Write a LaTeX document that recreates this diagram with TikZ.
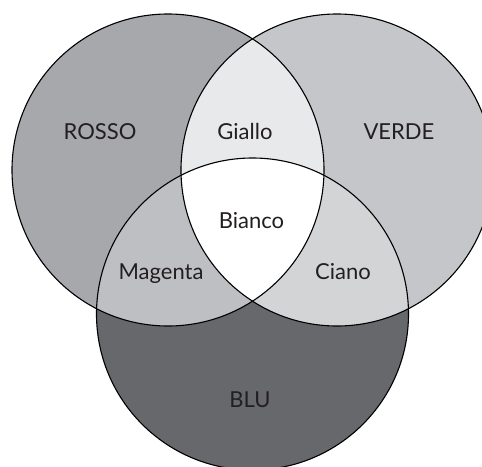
\documentclass[tikz,border=0pt]{standalone}
\usepackage{fontspec}
\setmainfont{Lato}
\definecolor{cred}{HTML}{A7A8AC}
\definecolor{cgreen}{HTML}{C4C6C9}
\definecolor{cblue}{HTML}{67686C}
\definecolor{cyel}{HTML}{E8E9EB}
\definecolor{cmag}{HTML}{BDBFC2}
\definecolor{ccya}{HTML}{D2D4D6}
\definecolor{ctext}{HTML}{231F20}
\begin{document}
\begin{tikzpicture}[x=1pt,y=-1pt,
  lbl/.style={anchor=base,text=ctext,font=\fontsize{22}{26}\selectfont,inner sep=0pt},
  ring/.style={draw=black,line width=1.1pt}]
\useasboundingbox (0,0) rectangle (482,466);
\begin{scope}
\clip (0,0) rectangle (482,466);
\coordinate (R) at (168,170);
\coordinate (G) at (337,170);
\coordinate (B) at (252.5,314);
\def\rad{156}
\fill[cred] (R) circle (\rad);
\fill[cgreen] (G) circle (\rad);
\fill[cblue] (B) circle (\rad);
\begin{scope}
\clip (R) circle (\rad);
\fill[cyel] (G) circle (\rad);
\fill[cmag] (B) circle (\rad);
\end{scope}
\begin{scope}
\clip (G) circle (\rad);
\fill[ccya] (B) circle (\rad);
\end{scope}
\begin{scope}
\clip (R) circle (\rad);
\clip (G) circle (\rad);
\fill[white] (B) circle (\rad);
\end{scope}
\draw[ring] (R) circle (\rad);
\draw[ring] (G) circle (\rad);
\draw[ring] (B) circle (\rad);
\end{scope}
\node[lbl] (rosso) at (100,139) {ROSSO};
\node[lbl] (giallo) at (245,139) {Giallo};
\node[lbl] (verde) at (399,139) {VERDE};
\node[lbl] (bianco) at (251.5,228) {Bianco};
\node[lbl] (magenta) at (161,279) {Magenta};
\node[lbl] (ciano) at (343,279) {Ciano};
\node[lbl] (blu) at (250,407) {BLU};
\end{tikzpicture}
\end{document}
